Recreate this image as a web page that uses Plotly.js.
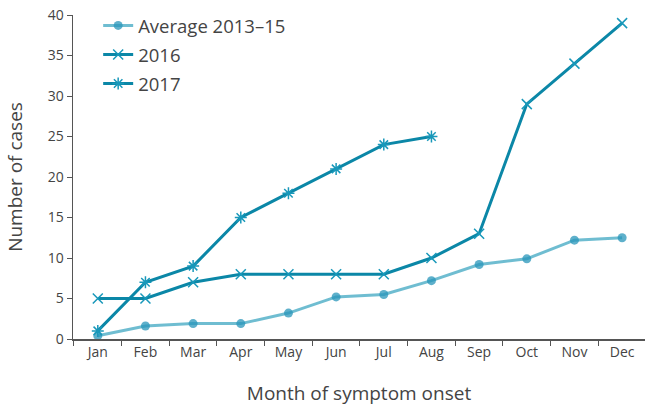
<!DOCTYPE html>
<html>
<head>
<meta charset="utf-8">
<script src="https://cdn.plot.ly/plotly-3.0.1.min.js"></script>
<style>html,body{margin:0;padding:0;background:#fff}#chart{width:645px;height:407px}</style>
</head>
<body>
<div id="chart"></div>
<script>
const months = ["Jan","Feb","Mar","Apr","May","Jun","Jul","Aug","Sep","Oct","Nov","Dec"];
const avg201315 = [0.4,1.6,1.9,1.9,3.2,5.2,5.5,7.2,9.2,9.9,12.2,12.5];
const y2016 = [5,5,7,8,8,8,8,10,13,29,34,39];
const months2017 = ["Jan","Feb","Mar","Apr","May","Jun","Jul","Aug"];
const y2017 = [1,7,9,15,18,21,24,25];
const seriesNames = ["Average 2013\u201315","2016","2017"];

const font = "'Open Sans', 'Noto Sans', sans-serif";
const traces = [
  {x: months, y: avg201315, name: seriesNames[0], type:'scatter', mode:'lines+markers', legendgroup:'a',
   line:{color:'rgba(75,172,198,0.8)', width:3}, marker:{symbol:'circle', size:9, color:'rgba(40,150,185,0.75)'}},
  {x: months, y: y2016, name: seriesNames[1], type:'scatter', mode:'lines+markers', legendgroup:'b',
   line:{color:'#0b87a7', width:3}, marker:{symbol:'x-thin', size:10, line:{color:'#1898ba', width:1.5}, color:'#1898ba'}},
  {x: months2017, y: y2017, name: seriesNames[2], type:'scatter', mode:'lines+markers', legendgroup:'c',
   line:{color:'#0b87a7', width:3}, marker:{symbol:'asterisk-open', size:10, line:{color:'#1898ba', width:1.5}, color:'#1898ba'}}
];
const layout = {
  width:645, height:407,
  margin:{l:73, r:0, t:15, b:68},
  paper_bgcolor:'#fff', plot_bgcolor:'#fff',
  font:{family:font, color:'#444', size:14},
  showlegend:true,
  legend:{x:0.044, y:1.025, xanchor:'left', yanchor:'top', bgcolor:'rgba(0,0,0,0)',
          font:{size:18.5, color:'#444', family:font}, traceorder:'grouped', tracegroupgap:2},
  xaxis:{type:'category', range:[-0.52,11.48], tickson:'boundaries', ticks:'outside', ticklen:5,
         tickcolor:'#555', showline:true, linecolor:'#555', linewidth:1.5, showgrid:false, zeroline:false,
         tickfont:{size:14, color:'#444'}, fixedrange:true,
         title:{text:'Month of symptom onset', font:{size:19, color:'#444'}, standoff:26}},
  yaxis:{range:[0,40], dtick:5, ticks:'outside', ticklen:5, tickcolor:'#555', showline:true,
         linecolor:'#555', linewidth:1.5, showgrid:false, zeroline:false,
         tickfont:{size:14, color:'#444'},
         title:{text:'Number of cases', font:{size:19, color:'#444'}, standoff:20}}
};
Plotly.newPlot('chart', traces, layout, {displayModeBar:false, staticPlot:true});
</script>
</body>
</html>
